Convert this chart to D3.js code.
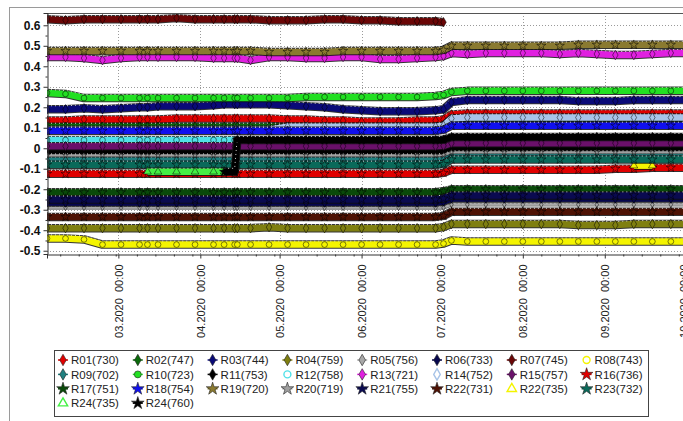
<!DOCTYPE html>
<html>
<head>
<meta charset="utf-8">
<script src="https://cdn.jsdelivr.net/npm/d3@7"></script>
<style>
  html, body { margin: 0; padding: 0; background: #fff; overflow: hidden; }
  svg { display: block; font-family: Arial, "Liberation Sans", sans-serif; }
</style>
</head>
<body>
<svg id="chart" width="683" height="421"></svg>
<script>
// Sample dates shared by every sensor series
const dates = [
  "2020-02-03","2020-02-10","2020-02-17","2020-02-24","2020-03-02","2020-03-09","2020-03-12","2020-03-16","2020-03-23","2020-03-30",
  "2020-04-06","2020-04-10","2020-04-14","2020-04-15","2020-04-20","2020-04-27","2020-05-04","2020-05-11","2020-05-18","2020-05-25",
  "2020-06-01","2020-06-08","2020-06-15","2020-06-22","2020-06-29","2020-07-02","2020-07-05","2020-07-11","2020-07-18","2020-07-25",
  "2020-08-01","2020-08-08","2020-08-15","2020-08-22","2020-08-29","2020-09-05","2020-09-12","2020-09-19","2020-09-26","2020-10-03"
];

// Axis ticks
const yTicks = [0.6, 0.5, 0.4, 0.3, 0.2, 0.1, 0, -0.1, -0.2, -0.3, -0.4, -0.5];
const yTickLabels = ["0.6","0.5","0.4","0.3","0.2","0.1","0","-0.1","-0.2","-0.3","-0.4","-0.5"];
const monthTicks = ["2020-03-01","2020-04-01","2020-05-01","2020-06-01","2020-07-01","2020-08-01","2020-09-01","2020-10-01"];
const monthTickLabels = ["03.2020  00:00","04.2020  00:00","05.2020  00:00","06.2020  00:00","07.2020  00:00","08.2020  00:00","09.2020  00:00","10.2020  00:00"];

// Series values (one per date, null where the sensor has no reading)
const r01 = [0.135,0.135,0.14,0.14,0.14,0.14,0.14,0.14,0.145,0.145, 0.145,0.145,0.145,0.145,0.145,0.145,0.14,0.14,0.135,0.135, 0.13,0.13,0.13,0.135,0.135,0.14,0.165,0.17,0.17,0.17, 0.17,0.17,0.17,0.17,0.17,0.17,0.17,0.17,0.17,0.17];
const r02 = [0.105,0.105,0.105,0.105,0.105,0.105,0.105,0.105,0.105,0.105, 0.105,0.105,0.105,0.105,0.105,0.105,0.105,0.105,0.105,0.105, 0.105,0.105,0.105,0.105,0.105,0.11,0.14,0.145,0.145,0.145, 0.145,0.145,0.145,0.145,0.145,0.145,0.145,0.145,0.145,0.145];
const r03 = [0.19,0.19,0.195,0.19,0.195,0.2,0.2,0.205,0.205,0.205, 0.21,0.215,0.215,0.215,0.215,0.215,0.21,0.205,0.2,0.19, 0.185,0.18,0.18,0.18,0.185,0.19,0.225,0.235,0.235,0.235, 0.235,0.235,0.235,0.23,0.23,0.23,0.235,0.235,0.235,0.235];
const r04 = [-0.39,-0.39,-0.39,-0.39,-0.39,-0.39,-0.39,-0.39,-0.39,-0.39, -0.39,-0.39,-0.39,-0.39,-0.39,-0.385,-0.39,-0.39,-0.39,-0.39, -0.39,-0.39,-0.39,-0.39,-0.39,-0.385,-0.37,-0.37,-0.37,-0.37, -0.37,-0.37,-0.37,-0.375,-0.375,-0.375,-0.37,-0.37,-0.37,-0.37];
const r05 = [-0.29,-0.29,-0.29,-0.29,-0.29,-0.29,-0.29,-0.29,-0.29,-0.29, -0.29,-0.29,-0.29,-0.29,-0.29,-0.29,-0.29,-0.29,-0.29,-0.29, -0.29,-0.29,-0.29,-0.29,-0.29,-0.29,-0.275,-0.275,-0.275,-0.275, -0.275,-0.275,-0.275,-0.275,-0.275,-0.275,-0.275,-0.275,-0.275,-0.275];
const r06 = [-0.265,-0.265,-0.265,-0.265,-0.265,-0.265,-0.265,-0.265,-0.265,-0.265, -0.265,-0.265,-0.265,-0.265,-0.265,-0.265,-0.265,-0.265,-0.265,-0.265, -0.265,-0.265,-0.265,-0.265,-0.265,-0.26,-0.245,-0.245,-0.245,-0.245, -0.245,-0.245,-0.245,-0.245,-0.245,-0.245,-0.245,-0.245,-0.245,-0.245];
const r07 = [0.63,0.625,0.63,0.63,0.63,0.63,0.63,0.63,0.635,0.63, 0.63,0.63,0.63,0.63,0.63,0.625,0.625,0.625,0.63,0.63, 0.625,0.625,0.62,0.62,0.62,0.615,null,null,null,null, null,null,null,null,null,null,null,null,null,null];
const r08 = [-0.44,-0.44,-0.445,-0.47,-0.47,-0.47,-0.47,-0.47,-0.47,-0.47, -0.47,-0.47,-0.47,-0.47,-0.47,-0.47,-0.47,-0.47,-0.47,-0.47, -0.47,-0.47,-0.47,-0.47,-0.47,-0.465,-0.45,-0.455,-0.455,-0.455, -0.455,-0.455,-0.455,-0.455,-0.455,-0.455,-0.455,-0.455,-0.455,-0.455];
const r09 = [-0.06,-0.06,-0.06,-0.06,-0.06,-0.06,-0.06,-0.06,-0.06,-0.06, -0.06,-0.06,-0.06,-0.06,-0.06,-0.06,-0.06,-0.06,-0.06,-0.06, -0.06,-0.06,-0.06,-0.06,-0.06,-0.058,-0.04,-0.04,-0.04,-0.04, -0.04,-0.04,-0.04,-0.04,-0.04,-0.04,-0.04,-0.04,-0.04,-0.04];
const r10 = [0.27,0.265,0.245,0.245,0.245,0.245,0.245,0.245,0.245,0.245, 0.245,0.245,0.245,0.245,0.245,0.245,0.245,0.25,0.25,0.25, 0.25,0.25,0.25,0.25,0.255,0.26,0.275,0.28,0.28,0.28, 0.28,0.28,0.28,0.28,0.28,0.28,0.28,0.28,0.28,0.28];
const r11 = [-0.015,-0.015,-0.015,-0.015,-0.015,-0.015,-0.015,-0.015,-0.015,-0.015, -0.015,-0.015,-0.015,-0.015,-0.015,-0.015,-0.015,-0.015,-0.015,-0.015, -0.015,-0.015,-0.015,-0.015,-0.015,-0.012,0.0,0.0,0.0,0.0, 0.0,0.0,0.0,0.0,0.0,0.0,0.0,0.0,0.0,0.0];
const r12 = [0.04,0.04,0.04,0.04,0.04,0.04,0.04,0.04,0.04,0.04, 0.04,0.04,0.04,0.04,0.04,0.04,0.04,0.04,0.04,0.04, 0.04,0.04,0.04,0.04,0.04,0.04,0.05,0.05,0.05,0.05, 0.05,0.05,0.05,0.05,0.05,0.05,0.05,0.05,0.05,0.05];
const r13 = [0.445,0.445,0.44,0.43,0.44,0.445,0.445,0.445,0.445,0.445, 0.44,0.44,0.44,0.44,0.43,0.445,0.445,0.44,0.44,0.445, 0.445,0.435,0.435,0.44,0.445,0.45,0.465,0.46,0.465,0.465, 0.465,0.465,0.46,0.465,0.46,0.455,0.455,0.46,0.465,0.465];
const r14 = [0.09,0.09,0.09,0.09,0.09,0.09,0.09,0.09,0.09,0.09, 0.09,0.09,0.09,0.09,0.09,0.09,0.105,0.105,0.105,0.105, 0.105,0.105,0.105,0.105,0.105,0.11,0.145,0.15,0.15,0.15, 0.15,0.15,0.15,0.15,0.15,0.15,0.15,0.15,0.15,0.15];
const r15 = [0.01,0.01,0.01,0.01,0.01,0.01,0.01,0.01,0.01,0.01, 0.01,0.01,0.01,0.01,0.01,0.01,0.01,0.01,0.01,0.01, 0.01,0.01,0.01,0.01,0.01,0.012,0.025,0.025,0.025,0.025, 0.025,0.025,0.025,0.025,0.025,0.025,0.025,0.025,0.025,0.025];
const r16 = [-0.125,-0.125,-0.125,-0.125,-0.125,-0.125,-0.125,-0.125,-0.125,-0.125, -0.125,-0.125,-0.125,-0.125,-0.125,-0.125,-0.125,-0.125,-0.125,-0.125, -0.125,-0.125,-0.125,-0.125,-0.125,-0.12,-0.105,-0.105,-0.105,-0.105, -0.105,-0.105,-0.105,-0.105,-0.105,-0.1,-0.1,-0.095,-0.095,-0.095];
const r17 = [-0.215,-0.215,-0.215,-0.215,-0.215,-0.215,-0.215,-0.215,-0.215,-0.215, -0.215,-0.215,-0.215,-0.215,-0.215,-0.215,-0.215,-0.215,-0.215,-0.215, -0.215,-0.215,-0.215,-0.215,-0.215,-0.21,-0.2,-0.2,-0.2,-0.2, -0.2,-0.2,-0.2,-0.2,-0.2,-0.2,-0.2,-0.2,-0.2,-0.2];
const r18 = [0.085,0.085,0.085,0.085,0.085,0.085,0.085,0.085,0.085,0.085, 0.085,0.085,0.085,0.085,0.085,0.085,0.085,0.085,0.085,0.085, 0.085,0.085,0.085,0.085,0.085,0.09,0.11,0.11,0.11,0.11, 0.11,0.11,0.11,0.11,0.11,0.11,0.11,0.11,0.11,0.11];
const r19 = [0.475,0.475,0.475,0.475,0.475,0.475,0.475,0.475,0.475,0.475, 0.475,0.475,0.475,0.475,0.475,0.47,0.47,0.47,0.47,0.475, 0.475,0.475,0.475,0.475,0.475,0.48,0.5,0.5,0.5,0.5, 0.5,0.5,0.5,0.505,0.505,0.505,0.505,0.505,0.505,0.505];
const r20 = [-0.035,-0.035,-0.035,-0.035,-0.035,-0.035,-0.035,-0.035,-0.035,-0.035, -0.035,-0.035,-0.035,-0.035,-0.035,-0.035,-0.035,-0.035,-0.035,-0.035, -0.035,-0.035,-0.035,-0.035,-0.035,-0.033,-0.02,-0.02,-0.02,-0.02, -0.02,-0.02,-0.02,-0.02,-0.02,-0.02,-0.02,-0.02,-0.02,-0.02];
const r21 = [-0.25,-0.25,-0.25,-0.25,-0.25,-0.25,-0.25,-0.25,-0.25,-0.25, -0.25,-0.25,-0.25,-0.25,-0.25,-0.25,-0.25,-0.25,-0.25,-0.25, -0.25,-0.25,-0.25,-0.25,-0.25,-0.245,-0.23,-0.23,-0.23,-0.23, -0.23,-0.23,-0.23,-0.23,-0.23,-0.23,-0.23,-0.23,-0.23,-0.23];
const r22a = [-0.335,-0.335,-0.335,-0.335,-0.335,-0.335,-0.335,-0.335,-0.335,-0.335, -0.335,-0.335,-0.335,-0.335,-0.335,-0.335,-0.335,-0.335,-0.335,-0.335, -0.335,-0.335,-0.335,-0.335,-0.335,-0.33,-0.31,-0.31,-0.31,-0.31, -0.31,-0.31,-0.31,-0.31,-0.31,-0.31,-0.31,-0.31,-0.31,-0.31];
const r22b = [null,null,null,null,null,null,null,null,null,null, null,null,null,null,null,null,null,null,null,null, null,null,null,null,null,null,null,null,null,null, null,null,null,null,null,null,-0.085,-0.085,null,null];
const r23 = [-0.08,-0.08,-0.08,-0.08,-0.08,-0.08,-0.08,-0.08,-0.08,-0.08, -0.08,-0.08,-0.08,-0.08,-0.08,-0.08,-0.08,-0.08,-0.08,-0.08, -0.08,-0.08,-0.08,-0.08,-0.08,-0.077,-0.055,-0.055,-0.055,-0.055, -0.055,-0.055,-0.055,-0.055,-0.055,-0.055,-0.055,-0.055,-0.055,-0.055];
const r24a = [null,null,null,null,null,null,-0.115,-0.115,-0.115,-0.115, -0.115,-0.115,null,null,null,null,null,null,null,null, null,null,null,null,null,null,null,null,null,null, null,null,null,null,null,null,null,null,null,null];
const r24b = [null,null,null,null,null,null,null,null,null,null, null,-0.115,-0.115,0.04,0.04,0.04,0.04,0.04,0.04,0.04, 0.04,0.04,0.04,0.04,0.04,0.042,0.055,0.055,0.055,0.055, 0.055,0.055,0.055,0.055,0.055,0.055,0.055,0.055,0.055,0.055];

const seriesNames = ["R01(730)","R02(747)","R03(744)","R04(759)","R05(756)","R06(733)","R07(745)","R08(743)",
  "R09(702)","R10(723)","R11(753)","R12(758)","R13(721)","R14(752)","R15(757)","R16(736)",
  "R17(751)","R18(754)","R19(720)","R20(719)","R21(755)","R22(731)","R22(735)","R23(732)",
  "R24(735)","R24(760)"];
const seriesValues = [r01,r02,r03,r04,r05,r06,r07,r08,r09,r10,r11,r12,r13,r14,r15,r16,r17,r18,r19,r20,r21,r22a,r22b,r23,r24a,r24b];
const seriesColors = ["#e00000","#0a6a0a","#0a0a78","#7f7f10","#a8a8a8","#06064e","#6a0606","#f4f400",
  "#1f7f7f","#22e022","#000000","#50e0e8","#e020e0","#a8c4e8","#6a106a","#e00000",
  "#0a4a0a","#1010ee","#8a7a30","#a0a0a0","#0a0a50","#4e1204","#f4f400","#0a6a5a",
  "#44f044","#000000"];
const seriesShapes = ["diamond","diamond","diamond","diamond","diamond","diamond","diamond","circle",
  "diamond","circle","diamond","circle","diamond","diamond","diamond","star",
  "star","star","star","star","star","star","triangle","star",
  "triangle","star"];
const hollow = ["R08(743)","R12(758)","R14(752)","R22(735)","R24(735)"];
// sensors plotted as a thin trace rather than a full-width band
const thin = ["R05(756)","R20(719)"];

const svg = d3.select("#chart");
const plot = { left: 47, top: 13, right: 692, bottom: 254 };

const parse = d3.utcParse("%Y-%m-%d");
const x = d3.scaleUtc().domain([parse("2020-02-03"), parse("2020-10-04")]).range([plot.left, plot.right]);
const y = d3.scaleLinear().domain([-0.516, 0.66]).range([plot.bottom, plot.top]);

const symbolType = { diamond: d3.symbolDiamond, circle: d3.symbolCircle, star: d3.symbolStar, triangle: d3.symbolTriangle };

// outer frame
svg.append("rect").attr("x", 9.5).attr("y", 7.5).attr("width", 700).attr("height", 430)
  .attr("fill", "none").attr("stroke", "#9a9a9a").attr("stroke-width", 1);

svg.append("defs").append("clipPath").attr("id", "plotClip")
  .append("rect").attr("x", plot.left).attr("y", plot.top)
  .attr("width", plot.right - plot.left).attr("height", plot.bottom - plot.top);

// gridlines
const grid = svg.append("g").attr("stroke", "#9a9a9a").attr("stroke-width", 1).attr("stroke-dasharray", "1,2");
grid.selectAll("line.h").data(yTicks).join("line").attr("class", "h")
  .attr("x1", plot.left).attr("x2", plot.right)
  .attr("y1", d => Math.round(y(d)) + 0.5).attr("y2", d => Math.round(y(d)) + 0.5);
grid.selectAll("line.v").data(monthTicks.map(parse)).join("line").attr("class", "v")
  .attr("y1", plot.top).attr("y2", plot.bottom)
  .attr("x1", d => Math.round(x(d)) + 0.5).attr("x2", d => Math.round(x(d)) + 0.5);

// series: dark-edged band with markers at each reading
const dateObjs = dates.map(parse);
const line = d3.line().defined(d => d.v != null).x(d => x(d.t)).y(d => y(d.v));
const gSeries = svg.append("g").attr("clip-path", "url(#plotClip)");

seriesValues.forEach((vals, i) => {
  const pts = vals.map((v, j) => ({ t: dateObjs[j], v }));
  const isThin = thin.includes(seriesNames[i]);
  const g = gSeries.append("g");
  g.append("path").attr("d", line(pts)).attr("fill", "none")
    .attr("stroke", "#111").attr("stroke-width", isThin ? 4 : 8.5).attr("stroke-linejoin", "round")
    .attr("opacity", isThin ? 0.6 : 0.85);
  g.append("path").attr("d", line(pts)).attr("fill", "none")
    .attr("stroke", seriesColors[i]).attr("stroke-width", isThin ? 2.2 : 6.5).attr("stroke-linejoin", "round");
  // fine hatching along the top edge of each band
  g.append("path").attr("d", line(pts)).attr("fill", "none").attr("transform", `translate(0,${isThin ? -1.5 : -3.5})`)
    .attr("stroke", "#fff").attr("stroke-width", 1).attr("stroke-dasharray", "1,3").attr("opacity", 0.8);
  const sym = d3.symbol().type(symbolType[seriesShapes[i]]).size(isThin ? 10 : 26);
  g.selectAll("path.m").data(pts.filter(d => d.v != null)).join("path").attr("class", "m")
    .attr("transform", d => `translate(${x(d.t)},${y(d.v)})`)
    .attr("d", sym()).attr("fill", seriesColors[i]).attr("stroke", "#000").attr("stroke-width", 0.5);
});

// plot frame
svg.append("line").attr("x1", plot.left).attr("x2", plot.right).attr("y1", plot.top + 0.5).attr("y2", plot.top + 0.5)
  .attr("stroke", "#555");

// y axis
const yAxis = d3.axisLeft(y).tickValues(yTicks).tickSize(4).tickPadding(3)
  .tickFormat((d, i) => yTickLabels[i]);
const gy = svg.append("g").attr("transform", `translate(${plot.left + 0.5},0)`).call(yAxis);
gy.select(".domain").attr("stroke", "#333");
gy.selectAll(".tick line").attr("stroke", "#333");
gy.selectAll("text").attr("font-size", 12).attr("font-weight", "bold").attr("fill", "#111")
  .attr("font-family", "Arial, 'Liberation Sans', sans-serif");
const yMinor = d3.range(-0.5, 0.65, 0.05).filter(v => Math.abs(Math.round(v * 10) - v * 10) > 0.01);
const gy2 = svg.append("g").attr("transform", `translate(${plot.left + 0.5},0)`)
  .call(d3.axisLeft(y).tickValues(yMinor).tickSize(2).tickFormat(""));
gy2.select(".domain").remove();
gy2.selectAll(".tick line").attr("stroke", "#333");

// x axis
const xAxis = d3.axisBottom(x).tickValues(monthTicks.map(parse)).tickSize(4).tickFormat((d, i) => monthTickLabels[i]);
const gx = svg.append("g").attr("transform", `translate(0,${plot.bottom + 0.5})`).call(xAxis);
gx.select(".domain").attr("stroke", "#333");
gx.selectAll(".tick line").attr("stroke", "#333");
gx.selectAll("text")
  .attr("font-size", 11).attr("fill", "#222").attr("font-family", "Arial, 'Liberation Sans', sans-serif")
  .style("white-space", "pre")
  .attr("text-anchor", "end").attr("transform", "rotate(-90)")
  .attr("x", -10).attr("y", 0).attr("dy", "0.35em");
const minorDays = [];
d3.utcMonths(parse("2020-02-01"), parse("2020-10-02")).forEach(m => {
  [8, 15, 22, 29].forEach(dd => {
    const t = new Date(Date.UTC(m.getUTCFullYear(), m.getUTCMonth(), dd));
    if (t.getUTCMonth() === m.getUTCMonth() && t >= x.domain()[0] && t <= x.domain()[1]) minorDays.push(t);
  });
});
const gx2 = svg.append("g").attr("transform", `translate(0,${plot.bottom + 0.5})`)
  .call(d3.axisBottom(x).tickValues(minorDays).tickSize(2).tickFormat(""));
gx2.select(".domain").remove();
gx2.selectAll(".tick line").attr("stroke", "#333");

// legend
const lg = svg.append("g");
lg.append("rect").attr("x", 54.5).attr("y", 350.5).attr("width", 594).attr("height", 66)
  .attr("fill", "#fff").attr("stroke", "#444").attr("stroke-width", 1);
seriesNames.forEach((name, i) => {
  const col = i % 8, row = Math.floor(i / 8);
  const mx = 63 + col * 74.8, my = 360 + row * 14.4;
  const item = lg.append("g").attr("transform", `translate(${mx},${my})`);
  if (!hollow.includes(name)) {
    item.append("line").attr("x1", -5).attr("x2", 5).attr("y1", 0).attr("y2", 0)
      .attr("stroke", seriesColors[i]).attr("stroke-width", 1.5);
  }
  const sym = d3.symbol().type(symbolType[seriesShapes[i]]).size(seriesShapes[i] === "star" ? 50 : 38);
  item.append("path").attr("d", sym())
    .attr("fill", hollow.includes(name) ? "#fff" : seriesColors[i])
    .attr("stroke", hollow.includes(name) ? seriesColors[i] : "#222")
    .attr("stroke-width", hollow.includes(name) ? 1.4 : 0.6);
  item.append("text").attr("x", 8).attr("y", 0).attr("dy", "0.36em")
    .attr("font-size", 11.5).attr("fill", "#222").text(name);
});
</script>
</body>
</html>
